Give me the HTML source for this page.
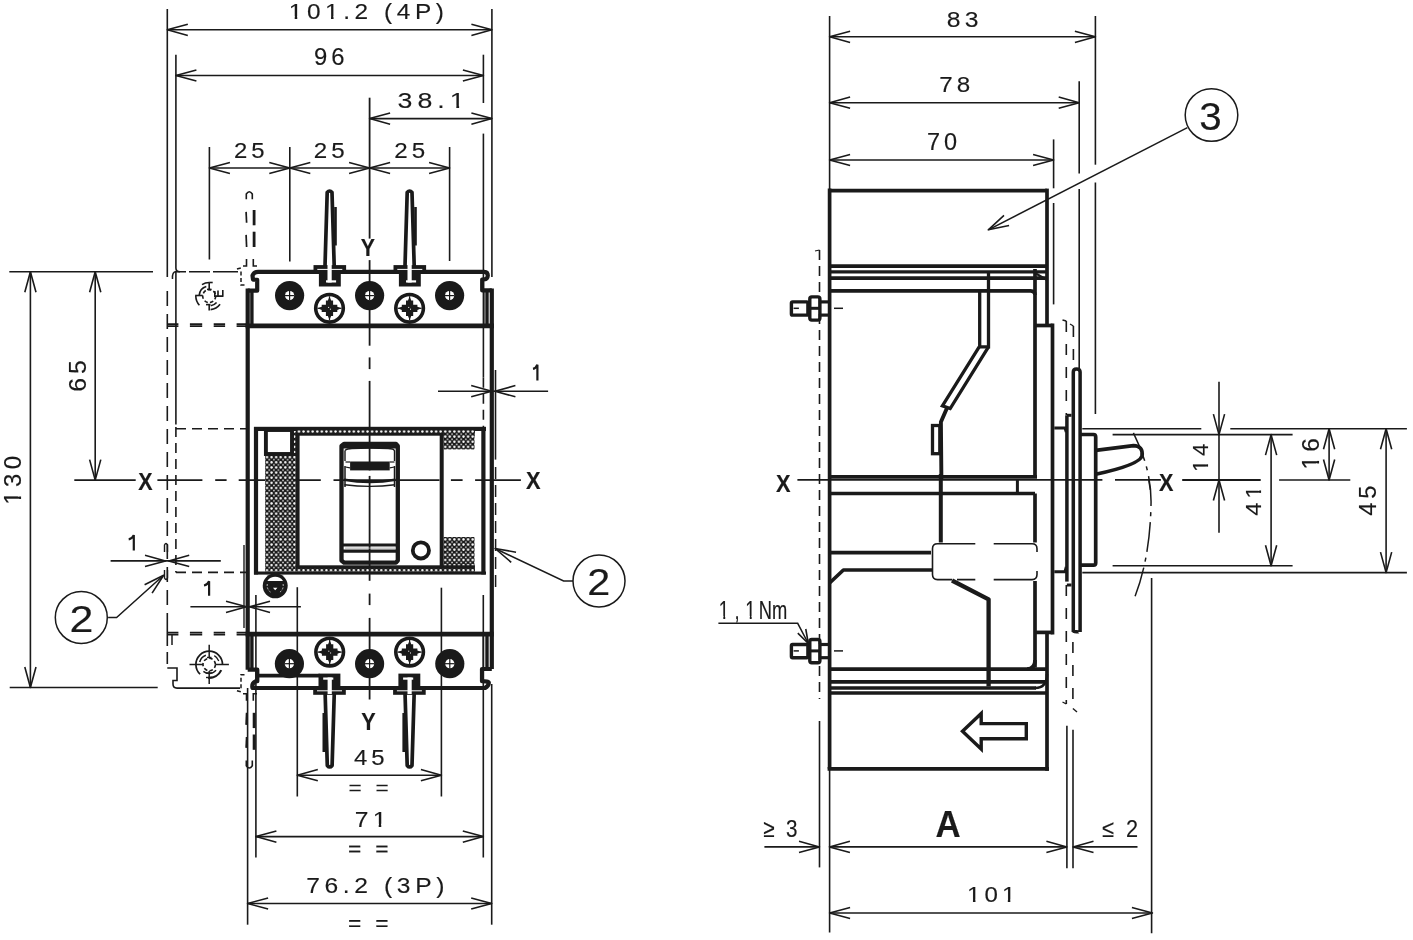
<!DOCTYPE html>
<html><head><meta charset="utf-8"><style>
html,body{margin:0;padding:0;background:#fff;overflow:hidden;}
svg{display:block;will-change:transform;}
text{font-family:"Liberation Sans",sans-serif;fill:#1a1a1a;stroke:#1a1a1a;stroke-width:0.15px;}
</style></head><body>
<svg width="1413" height="940" viewBox="0 0 1413 940">
<defs>
<pattern id="dots" x="4.24" y="3.6" width="4.57" height="5.14" patternUnits="userSpaceOnUse">
<rect width="4.57" height="5.14" fill="#1a1a1a"/><circle cx="2.27" cy="1.3" r="1.2" fill="#fff"/><circle cx="0" cy="3.87" r="0.8" fill="#eee"/><circle cx="4.57" cy="3.87" r="0.8" fill="#eee"/>
</pattern>
</defs>
<rect width="1413" height="940" fill="#fff"/>
<g stroke="#1a1a1a" fill="none" stroke-linecap="butt">
<line x1="167.3" y1="9" x2="167.3" y2="277" stroke-width="1.6" />
<line x1="491.9" y1="9" x2="491.9" y2="277" stroke-width="1.6" />
<line x1="167.3" y1="29.8" x2="491.9" y2="29.8" stroke-width="1.6" />
<path d="M187.8,24.2 L167.3,29.8 L187.8,35.4" stroke-width="1.6" stroke-linejoin="round"/>
<path d="M471.4,24.2 L491.9,29.8 L471.4,35.4" stroke-width="1.6" stroke-linejoin="round"/>
<line x1="175.9" y1="54.7" x2="175.9" y2="268" stroke-width="1.6" />
<path d="M175.9,268 Q175.9,271.8 180,271.8" stroke-width="1.6" />
<line x1="483.4" y1="54.7" x2="483.4" y2="103" stroke-width="1.6" />
<line x1="483.4" y1="133.6" x2="483.4" y2="377.7" stroke-width="1.6" />
<line x1="175.9" y1="75.5" x2="483.4" y2="75.5" stroke-width="1.6" />
<path d="M196.4,69.9 L175.9,75.5 L196.4,81.1" stroke-width="1.6" stroke-linejoin="round"/>
<path d="M462.9,69.9 L483.4,75.5 L462.9,81.1" stroke-width="1.6" stroke-linejoin="round"/>
<line x1="369.6" y1="118.6" x2="491.9" y2="118.6" stroke-width="1.6" />
<path d="M390.1,113 L369.6,118.6 L390.1,124.2" stroke-width="1.6" stroke-linejoin="round"/>
<path d="M471.4,113 L491.9,118.6 L471.4,124.2" stroke-width="1.6" stroke-linejoin="round"/>
<line x1="209.4" y1="147" x2="209.4" y2="259.5" stroke-width="1.6" />
<line x1="289.8" y1="147" x2="289.8" y2="261.5" stroke-width="1.6" />
<line x1="449.6" y1="147" x2="449.6" y2="261" stroke-width="1.6" />
<line x1="209.4" y1="168" x2="289.8" y2="168" stroke-width="1.6" />
<path d="M229.9,162.4 L209.4,168 L229.9,173.6" stroke-width="1.6" stroke-linejoin="round"/>
<path d="M269.3,162.4 L289.8,168 L269.3,173.6" stroke-width="1.6" stroke-linejoin="round"/>
<line x1="289.8" y1="168" x2="369.6" y2="168" stroke-width="1.6" />
<path d="M310.3,162.4 L289.8,168 L310.3,173.6" stroke-width="1.6" stroke-linejoin="round"/>
<path d="M349.1,162.4 L369.6,168 L349.1,173.6" stroke-width="1.6" stroke-linejoin="round"/>
<line x1="369.6" y1="168" x2="449.6" y2="168" stroke-width="1.6" />
<path d="M390.1,162.4 L369.6,168 L390.1,173.6" stroke-width="1.6" stroke-linejoin="round"/>
<path d="M429.1,162.4 L449.6,168 L429.1,173.6" stroke-width="1.6" stroke-linejoin="round"/>
<line x1="369.6" y1="97.7" x2="369.6" y2="238.6" stroke-width="1.8" />
<line x1="369.6" y1="260.1" x2="369.6" y2="345.7" stroke-width="1.8" />
<line x1="369.6" y1="357.4" x2="369.6" y2="369.1" stroke-width="1.8" />
<line x1="369.6" y1="380.9" x2="369.6" y2="470.4" stroke-width="1.8" />
<line x1="369.6" y1="475.9" x2="369.6" y2="580.8" stroke-width="1.8" />
<line x1="369.6" y1="593.6" x2="369.6" y2="605.1" stroke-width="1.8" />
<line x1="369.6" y1="617.9" x2="369.6" y2="699.5" stroke-width="1.8" />
<line x1="9.3" y1="271.8" x2="153" y2="271.8" stroke-width="1.6" />
<line x1="9.7" y1="687.5" x2="157.7" y2="687.5" stroke-width="1.6" />
<line x1="30.4" y1="271.8" x2="30.4" y2="687.5" stroke-width="1.6" />
<path d="M24.8,292.3 L30.4,271.8 L36,292.3" stroke-width="1.6" stroke-linejoin="round"/>
<path d="M24.8,667 L30.4,687.5 L36,667" stroke-width="1.6" stroke-linejoin="round"/>
<line x1="95.2" y1="271.8" x2="95.2" y2="480.1" stroke-width="1.6" />
<path d="M89.6,292.3 L95.2,271.8 L100.8,292.3" stroke-width="1.6" stroke-linejoin="round"/>
<path d="M89.6,459.6 L95.2,480.1 L100.8,459.6" stroke-width="1.6" stroke-linejoin="round"/>
<line x1="74.3" y1="480.1" x2="135.7" y2="480.1" stroke-width="1.8" />
<line x1="157.4" y1="480.1" x2="202.4" y2="480.1" stroke-width="1.8" />
<line x1="215.2" y1="480.1" x2="226.6" y2="480.1" stroke-width="1.8" />
<line x1="238.7" y1="480.1" x2="320.8" y2="480.1" stroke-width="1.8" />
<line x1="333.5" y1="480.1" x2="439.5" y2="480.1" stroke-width="1.8" />
<line x1="450.9" y1="480.1" x2="462.6" y2="480.1" stroke-width="1.8" />
<line x1="475.1" y1="480.1" x2="520.9" y2="480.1" stroke-width="1.8" />
<line x1="167.3" y1="291" x2="167.3" y2="616" stroke-width="1.6" stroke-dasharray="15 8"/>
<line x1="167.3" y1="616" x2="167.3" y2="634" stroke-width="1.6" />
<line x1="167.3" y1="634" x2="167.3" y2="668" stroke-width="1.6" stroke-dasharray="12 6"/>
<path d="M167.3,668 L177,668 L177,680.5 L173,680.5 L173,684 Q173,688.1 177,688.1 L240,688.1" stroke-width="1.6" />
<path d="M172,271.8 L238,271.8" stroke-width="1.6" stroke-dasharray="0 3 11 3 21 3 25 3"/>
<path d="M172.5,279 Q172,271.8 176,271.5" stroke-width="1.5" />
<line x1="175.9" y1="271.8" x2="175.9" y2="424.6" stroke-width="1.6" />
<line x1="175.9" y1="427" x2="175.9" y2="572.4" stroke-width="1.6" stroke-dasharray="10 6"/>
<line x1="176" y1="428.7" x2="246" y2="428.7" stroke-width="1.6" stroke-dasharray="10 6"/>
<line x1="176" y1="572.4" x2="246" y2="572.4" stroke-width="1.6" stroke-dasharray="10 6"/>
<path d="M172,634 L172,645" stroke-width="1.5" />
<line x1="167" y1="324.2" x2="246" y2="324.2" stroke-width="1.8" stroke-dasharray="11.4 11.5 12.3 11.5"/>
<line x1="167" y1="326.2" x2="246" y2="326.2" stroke-width="1.8" stroke-dasharray="11.4 11.5 12.3 11.5"/>
<line x1="167" y1="632.7" x2="246" y2="632.7" stroke-width="1.8" stroke-dasharray="11.4 11.5 12.3 11.5"/>
<line x1="167" y1="634.7" x2="246" y2="634.7" stroke-width="1.8" stroke-dasharray="11.4 11.5 12.3 11.5"/>
<circle cx="209.2" cy="296.1" r="6.5" stroke-width="1.6" fill="none" stroke-dasharray="3.5 2.2"/>
<path d="M201.99,284.57 A13.6,13.6 0 0 1 209.2,282.5" stroke-width="1.6" />
<line x1="209.2" y1="282.5" x2="212.7" y2="282.5" stroke-width="1.6" />
<path d="M199.25,295.05 A10,10 0 0 1 206.28,286.54" stroke-width="1.6" />
<line x1="195.1" y1="295.5" x2="202.6" y2="295.5" stroke-width="1.6" />
<path d="M199.4,305.24 A13.4,13.4 0 0 1 195.8,296.1" stroke-width="1.6" />
<line x1="209.2" y1="282.5" x2="209.2" y2="289.4" stroke-width="1.6" />
<line x1="207" y1="289.4" x2="211.5" y2="289.4" stroke-width="1.6" />
<path d="M214.8,291 L214.8,296.1 L223.5,296.1 M218,290.5 L218,296.1 M222.8,290 L222.8,296.1" stroke-width="1.6" />
<line x1="206" y1="304.6" x2="210.5" y2="304.6" stroke-width="1.6" />
<path d="M216.6,302.53 A9.8,9.8 0 0 1 210.73,305.78" stroke-width="1.6" />
<line x1="209.2" y1="304.6" x2="209.2" y2="310.4" stroke-width="1.6" />
<path d="M220.06,304.28 A13.6,13.6 0 0 1 210.62,309.63" stroke-width="1.6" />
<circle cx="209.2" cy="664.5" r="6.2" stroke-width="1.6" fill="none" stroke-dasharray="3.5 2.2"/>
<path d="M195.9,664.5 A13.3,13.3 0 0 1 222.5,664.5" stroke-width="1.7" />
<path d="M200.13,674.23 A13.3,13.3 0 0 1 195.91,664.96" stroke-width="1.7" />
<path d="M221.25,670.12 A13.3,13.3 0 0 1 208.04,677.75" stroke-width="2.2" />
<path d="M199.73,661.96 A9.8,9.8 0 0 1 205.85,655.29" stroke-width="1.6" />
<path d="M216.09,670.29 A9,9 0 0 1 203.41,671.39" stroke-width="1.4" />
<path d="M214.3,655.67 A10.2,10.2 0 0 1 218.78,661.01" stroke-width="1.3" />
<line x1="189.5" y1="664.5" x2="203" y2="664.5" stroke-width="1.5" />
<line x1="215.5" y1="664.5" x2="228.9" y2="664.5" stroke-width="1.5" />
<line x1="209.2" y1="644.8" x2="209.2" y2="657.5" stroke-width="1.5" />
<line x1="207" y1="657.5" x2="211.5" y2="657.5" stroke-width="1.5" />
<line x1="209.2" y1="671" x2="209.2" y2="683.9" stroke-width="1.5" />
<line x1="206" y1="673" x2="212.5" y2="673" stroke-width="1.4" />
<line x1="206" y1="677.5" x2="212" y2="677.5" stroke-width="1.4" />
<path d="M246.3,199.2 L246.3,194 Q249.3,189.5 252.3,194 L252.3,199.2" stroke-width="1.6" />
<line x1="246.1" y1="211.9" x2="246.6" y2="222.8" stroke-width="1.7" />
<line x1="246.1" y1="234.9" x2="246.6" y2="247" stroke-width="1.7" />
<line x1="254.1" y1="210" x2="254.1" y2="225.3" stroke-width="2.8" />
<line x1="254.1" y1="231.7" x2="254.1" y2="247" stroke-width="2.8" />
<path d="M246.5,259 L246.5,266 L243,266" stroke-width="1.6" />
<path d="M253.3,259 L253.3,266 L257,266" stroke-width="1.6" />
<path d="M240.8,268 L235.5,269.5 M241,271.5 L241,285 L245,285" stroke-width="1.5" stroke-dasharray="4 2.5"/>
<path d="M246.3,760.6 L246.3,765.8 Q249.3,770.3 252.3,765.8 L252.3,760.6" stroke-width="1.6" />
<line x1="246.1" y1="747.9" x2="246.6" y2="737" stroke-width="1.7" />
<line x1="246.1" y1="724.9" x2="246.6" y2="712.8" stroke-width="1.7" />
<line x1="254.1" y1="749.8" x2="254.1" y2="734.5" stroke-width="2.8" />
<line x1="254.1" y1="728.1" x2="254.1" y2="712.8" stroke-width="2.8" />
<path d="M246.5,700.8 L246.5,693.8 L243,693.8" stroke-width="1.6" />
<path d="M253.3,700.8 L253.3,693.8 L257,693.8" stroke-width="1.6" />
<path d="M240.8,691.8 L235.5,690.3 M241,688.3 L241,674.8 L245,674.8" stroke-width="1.5" stroke-dasharray="4 2.5"/>
<path d="M258,271.8 L484.2,271.8 Q487.8,272 487.8,275.5 Q487.6,279.2 484.2,279.4 L482.2,279.6 L482.2,290.4 L491.8,290.4" stroke-width="4.2" stroke-linejoin="round"/>
<path d="M258,271.8 Q254,271.8 252.5,275.5 L253,279.6 L257.2,279.8 L257.2,290.7 L247.7,290.7" stroke-width="4.2" stroke-linejoin="round"/>
<line x1="247.7" y1="288.6" x2="247.7" y2="669.7" stroke-width="4.2" />
<line x1="491.8" y1="288.6" x2="491.8" y2="669" stroke-width="4.2" />
<line x1="251.9" y1="289" x2="251.9" y2="325" stroke-width="3.4" />
<line x1="483.8" y1="291" x2="483.8" y2="325" stroke-width="1.6" />
<line x1="487" y1="289" x2="487" y2="325" stroke-width="3.4" />
<line x1="245.6" y1="325.8" x2="494" y2="325.8" stroke-width="4.8" />
<line x1="245.6" y1="634.2" x2="493.7" y2="634.2" stroke-width="4.8" />
<line x1="251.9" y1="634" x2="251.9" y2="669.7" stroke-width="3.4" />
<line x1="483.4" y1="634" x2="483.4" y2="669" stroke-width="1.6" />
<line x1="487" y1="634" x2="487" y2="669" stroke-width="3.4" />
<path d="M247.7,669.7 L257.3,669.7 L257.3,681.2 L255.5,681.4 Q251.5,683.5 252.5,688 L485,688 Q489,686 488.8,682.5 Q487.5,681.2 482,681.2 L482,669 L491.8,669" stroke-width="4.2" stroke-linejoin="round"/>
<line x1="258.7" y1="675.6" x2="319.7" y2="675.6" stroke-width="3.6" />
<line x1="495.5" y1="370" x2="495.5" y2="459.6" stroke-width="1.6" />
<line x1="495.6" y1="467" x2="495.6" y2="591" stroke-width="1.5" stroke-dasharray="12 6"/>
<line x1="483.4" y1="377.7" x2="483.4" y2="427" stroke-width="1.6" stroke-dasharray="10 6"/>
<circle cx="289.6" cy="295.6" r="14.6" stroke-width="0" fill="#1a1a1a" stroke="none"/>
<circle cx="289.6" cy="295.6" r="4.6" stroke-width="0" fill="#fff" stroke="none"/>
<line x1="284.8" y1="295.6" x2="294.4" y2="295.6" stroke-width="1.2" />
<line x1="289.6" y1="290.8" x2="289.6" y2="300.4" stroke-width="1.2" />
<circle cx="369.6" cy="295.6" r="14.6" stroke-width="0" fill="#1a1a1a" stroke="none"/>
<circle cx="369.6" cy="295.6" r="4.6" stroke-width="0" fill="#fff" stroke="none"/>
<line x1="364.8" y1="295.6" x2="374.4" y2="295.6" stroke-width="1.2" />
<line x1="369.6" y1="290.8" x2="369.6" y2="300.4" stroke-width="1.2" />
<circle cx="449.6" cy="295.6" r="14.6" stroke-width="0" fill="#1a1a1a" stroke="none"/>
<circle cx="449.6" cy="295.6" r="4.6" stroke-width="0" fill="#fff" stroke="none"/>
<line x1="444.8" y1="295.6" x2="454.4" y2="295.6" stroke-width="1.2" />
<line x1="449.6" y1="290.8" x2="449.6" y2="300.4" stroke-width="1.2" />
<circle cx="329.5" cy="308.3" r="13.8" stroke-width="3.6" fill="none" />
<path d="M317.7,308.3 L321.7,306.7 L321.7,304.7 L325.9,304.7 L325.9,300.5 L327.9,300.5 L329.5,296.5 L331.1,300.5 L333.1,300.5 L333.1,304.7 L337.3,304.7 L337.3,306.7 L341.3,308.3 L337.3,309.9 L337.3,311.9 L333.1,311.9 L333.1,316.1 L331.1,316.1 L329.5,320.1 L327.9,316.1 L325.9,316.1 L325.9,311.9 L321.7,311.9 L321.7,309.9 Z" fill="#1a1a1a" stroke="none"/>
<line x1="317.5" y1="308.3" x2="341.5" y2="308.3" stroke-width="1.2" />
<line x1="329.5" y1="296.3" x2="329.5" y2="320.3" stroke-width="1.2" />
<rect x="328.1" y="306.9" width="1" height="1" fill="#fff" stroke="none"/>
<rect x="329.9" y="308.7" width="1" height="1" fill="#fff" stroke="none"/>
<circle cx="409.6" cy="308.3" r="13.8" stroke-width="3.6" fill="none" />
<path d="M397.8,308.3 L401.8,306.7 L401.8,304.7 L406,304.7 L406,300.5 L408,300.5 L409.6,296.5 L411.2,300.5 L413.2,300.5 L413.2,304.7 L417.4,304.7 L417.4,306.7 L421.4,308.3 L417.4,309.9 L417.4,311.9 L413.2,311.9 L413.2,316.1 L411.2,316.1 L409.6,320.1 L408,316.1 L406,316.1 L406,311.9 L401.8,311.9 L401.8,309.9 Z" fill="#1a1a1a" stroke="none"/>
<line x1="397.6" y1="308.3" x2="421.6" y2="308.3" stroke-width="1.2" />
<line x1="409.6" y1="296.3" x2="409.6" y2="320.3" stroke-width="1.2" />
<rect x="408.2" y="306.9" width="1" height="1" fill="#fff" stroke="none"/>
<rect x="410" y="308.7" width="1" height="1" fill="#fff" stroke="none"/>
<path d="M325,266 L327.2,192.5 Q329.6,189.5 332,192.5 L334.2,266" stroke-width="3.7" stroke-linejoin="round"/>
<rect x="334.2" y="207" width="2.6" height="38.5" fill="#1a1a1a" stroke="none"/>
<rect x="313.5" y="265.1" width="32.6" height="8.5" fill="#1a1a1a" stroke="none"/>
<rect x="317.3" y="268.9" width="25" height="1" fill="#fff" stroke="none"/>
<rect x="318.9" y="271" width="21.9" height="15.5" fill="#1a1a1a" stroke="none"/>
<rect x="327.5" y="264" width="4.2" height="18.5" fill="#fff" stroke="none"/>
<rect x="326" y="280.3" width="10.1" height="2.2" fill="#fff" stroke="none"/>
<path d="M405,266 L407.2,192.5 Q409.6,189.5 412,192.5 L414.2,266" stroke-width="3.7" stroke-linejoin="round"/>
<rect x="414.2" y="207" width="2.6" height="38.5" fill="#1a1a1a" stroke="none"/>
<rect x="393.5" y="265.1" width="32.6" height="8.5" fill="#1a1a1a" stroke="none"/>
<rect x="397.3" y="268.9" width="25" height="1" fill="#fff" stroke="none"/>
<rect x="398.9" y="271" width="21.9" height="15.5" fill="#1a1a1a" stroke="none"/>
<rect x="407.5" y="264" width="4.2" height="18.5" fill="#fff" stroke="none"/>
<rect x="406" y="280.3" width="10.1" height="2.2" fill="#fff" stroke="none"/>
<circle cx="289.4" cy="663.7" r="14.6" stroke-width="0" fill="#1a1a1a" stroke="none"/>
<circle cx="289.4" cy="663.7" r="4.6" stroke-width="0" fill="#fff" stroke="none"/>
<line x1="284.6" y1="663.7" x2="294.2" y2="663.7" stroke-width="1.2" />
<line x1="289.4" y1="658.9" x2="289.4" y2="668.5" stroke-width="1.2" />
<circle cx="369.6" cy="663.7" r="14.6" stroke-width="0" fill="#1a1a1a" stroke="none"/>
<circle cx="369.6" cy="663.7" r="4.6" stroke-width="0" fill="#fff" stroke="none"/>
<line x1="364.8" y1="663.7" x2="374.4" y2="663.7" stroke-width="1.2" />
<line x1="369.6" y1="658.9" x2="369.6" y2="668.5" stroke-width="1.2" />
<circle cx="449.8" cy="663.7" r="14.6" stroke-width="0" fill="#1a1a1a" stroke="none"/>
<circle cx="449.8" cy="663.7" r="4.6" stroke-width="0" fill="#fff" stroke="none"/>
<line x1="445" y1="663.7" x2="454.6" y2="663.7" stroke-width="1.2" />
<line x1="449.8" y1="658.9" x2="449.8" y2="668.5" stroke-width="1.2" />
<circle cx="329.7" cy="652.1" r="13.8" stroke-width="3.6" fill="none" />
<path d="M317.9,652.1 L321.9,650.5 L321.9,648.5 L326.1,648.5 L326.1,644.3 L328.1,644.3 L329.7,640.3 L331.3,644.3 L333.3,644.3 L333.3,648.5 L337.5,648.5 L337.5,650.5 L341.5,652.1 L337.5,653.7 L337.5,655.7 L333.3,655.7 L333.3,659.9 L331.3,659.9 L329.7,663.9 L328.1,659.9 L326.1,659.9 L326.1,655.7 L321.9,655.7 L321.9,653.7 Z" fill="#1a1a1a" stroke="none"/>
<line x1="317.7" y1="652.1" x2="341.7" y2="652.1" stroke-width="1.2" />
<line x1="329.7" y1="640.1" x2="329.7" y2="664.1" stroke-width="1.2" />
<rect x="328.3" y="650.7" width="1" height="1" fill="#fff" stroke="none"/>
<rect x="330.1" y="652.5" width="1" height="1" fill="#fff" stroke="none"/>
<circle cx="409.6" cy="652.1" r="13.8" stroke-width="3.6" fill="none" />
<path d="M397.8,652.1 L401.8,650.5 L401.8,648.5 L406,648.5 L406,644.3 L408,644.3 L409.6,640.3 L411.2,644.3 L413.2,644.3 L413.2,648.5 L417.4,648.5 L417.4,650.5 L421.4,652.1 L417.4,653.7 L417.4,655.7 L413.2,655.7 L413.2,659.9 L411.2,659.9 L409.6,663.9 L408,659.9 L406,659.9 L406,655.7 L401.8,655.7 L401.8,653.7 Z" fill="#1a1a1a" stroke="none"/>
<line x1="397.6" y1="652.1" x2="421.6" y2="652.1" stroke-width="1.2" />
<line x1="409.6" y1="640.1" x2="409.6" y2="664.1" stroke-width="1.2" />
<rect x="408.2" y="650.7" width="1" height="1" fill="#fff" stroke="none"/>
<rect x="410" y="652.5" width="1" height="1" fill="#fff" stroke="none"/>
<path d="M325.1,692 L327.3,765.5 Q329.7,768.5 332.1,765.5 L334.3,692" stroke-width="3.7" stroke-linejoin="round"/>
<rect x="322.5" y="713" width="2.6" height="39" fill="#1a1a1a" stroke="none"/>
<rect x="313.2" y="686" width="32.6" height="8.8" fill="#1a1a1a" stroke="none"/>
<rect x="317" y="690.3" width="25" height="1" fill="#fff" stroke="none"/>
<rect x="318.5" y="673.6" width="21.9" height="15.4" fill="#1a1a1a" stroke="none"/>
<rect x="327.6" y="677.5" width="4.2" height="16.5" fill="#fff" stroke="none"/>
<rect x="323.2" y="677.5" width="10.1" height="2.2" fill="#fff" stroke="none"/>
<path d="M405,692 L407.2,765.5 Q409.6,768.5 412,765.5 L414.2,692" stroke-width="3.7" stroke-linejoin="round"/>
<rect x="402.4" y="713" width="2.6" height="39" fill="#1a1a1a" stroke="none"/>
<rect x="393.1" y="686" width="32.6" height="8.8" fill="#1a1a1a" stroke="none"/>
<rect x="396.9" y="690.3" width="25" height="1" fill="#fff" stroke="none"/>
<rect x="398.4" y="673.6" width="21.9" height="15.4" fill="#1a1a1a" stroke="none"/>
<rect x="407.5" y="677.5" width="4.2" height="16.5" fill="#fff" stroke="none"/>
<rect x="403.1" y="677.5" width="10.1" height="2.2" fill="#fff" stroke="none"/>
<rect x="254" y="426.8" width="232" height="4.2" fill="#1a1a1a" stroke="none"/>
<rect x="295.5" y="431" width="179.4" height="4.7" fill="#1a1a1a" stroke="none"/>
<rect x="297" y="430.2" width="177.5" height="2.8" fill="url(#dots)" stroke="none"/>
<rect x="443.6" y="431" width="30.9" height="18.4" fill="url(#dots)" stroke="none"/>
<rect x="265.1" y="455.7" width="30.6" height="115.8" fill="url(#dots)" stroke="none"/>
<rect x="293" y="431" width="3" height="25" fill="url(#dots)" stroke="none"/>
<rect x="443.6" y="537" width="30.9" height="34.5" fill="url(#dots)" stroke="none"/>
<rect x="254" y="571.5" width="232" height="3.1" fill="#1a1a1a" stroke="none"/>
<rect x="295.5" y="565.3" width="179.4" height="6.2" fill="#1a1a1a" stroke="none"/>
<rect x="297" y="568.8" width="177.5" height="2.6" fill="url(#dots)" stroke="none"/>
<line x1="256" y1="427" x2="256" y2="574.5" stroke-width="4.2" />
<line x1="483.4" y1="427" x2="483.4" y2="574.5" stroke-width="4.2" />
<rect x="265.9" y="430" width="26.1" height="24" stroke-width="3.9" />
<rect x="264" y="453" width="31.7" height="2.7" fill="#1a1a1a" stroke="none"/>
<line x1="297.6" y1="433" x2="297.6" y2="567" stroke-width="4.0" />
<line x1="441.7" y1="433" x2="441.7" y2="567" stroke-width="4.0" />
<path d="M341.5,560.5 L341.5,446 L344,443.9 L396,443.9 L397.8,446 L397.8,560.5 L396,562.6 L344,562.6 Z" stroke-width="4.3" stroke-linejoin="round"/>
<line x1="342" y1="446.3" x2="397" y2="446.3" stroke-width="4.6" />
<path d="M345,450.5 Q347,448.5 352,448.5 Q370,447.8 388,448.5 Q394,448.5 394.5,451 L394.5,461" stroke-width="1.4" />
<path d="M345,450.5 L345,461" stroke-width="1.4" />
<rect x="350.1" y="461.5" width="39.6" height="8.9" fill="#1a1a1a" stroke="none"/>
<line x1="345.5" y1="462" x2="350" y2="462" stroke-width="1.2" />
<line x1="389.7" y1="462" x2="394.5" y2="462" stroke-width="1.2" />
<line x1="345.5" y1="467" x2="350" y2="467.8" stroke-width="1.2" />
<line x1="389.7" y1="467.8" x2="394.5" y2="467" stroke-width="1.2" />
<line x1="345" y1="466" x2="345" y2="487" stroke-width="1.5" />
<line x1="394.5" y1="466" x2="394.5" y2="487" stroke-width="1.5" />
<path d="M344,479.7 Q370,484 395.5,479.7" stroke-width="2.6" />
<path d="M344.5,484.8 Q370,488 395,484.8" stroke-width="1.4" />
<line x1="342" y1="544.9" x2="397" y2="544.9" stroke-width="3.0" />
<line x1="345" y1="548.1" x2="395" y2="548.1" stroke-width="0.8" stroke="#999"/>
<line x1="342" y1="551.1" x2="397" y2="551.1" stroke-width="3.4" />
<circle cx="420.9" cy="550.4" r="8.1" stroke-width="3.8" fill="none" />
<circle cx="275.2" cy="585.8" r="12.5" stroke-width="0" fill="#1a1a1a" stroke="none"/>
<path d="M267.4,580.9 A9.3,9.3 0 0 1 283,580.9 Z" fill="#fff" stroke="none"/>
<path d="M267.3,584 A8.2,8.2 0 0 0 271,592.5 M283.1,584 A8.2,8.2 0 0 1 279.4,592.5" stroke="#fff" stroke-width="0.7" stroke-dasharray="2 1.5"/>
<path d="M273,587.8 L277.4,587.8 L275.2,590.3 Z" fill="#fff" stroke="none"/>
<line x1="438" y1="391.2" x2="548.1" y2="391.2" stroke-width="1.6" />
<path d="M471.2,385.6 L491.7,391.2 L471.2,396.8" stroke-width="1.6" stroke-linejoin="round"/>
<path d="M515.4,385.6 L494.9,391.2 L515.4,396.8" stroke-width="1.6" stroke-linejoin="round"/>
<circle cx="81.3" cy="617.5" r="26" stroke-width="1.5" fill="none" />
<path d="M108.1,617.5 L116.6,617.5 L163.6,575.3" stroke-width="1.5" />
<path d="M144.61,584.83 L163.6,575.3 L152.09,593.16" stroke-width="1.6" stroke-linejoin="round"/>
<circle cx="599" cy="581" r="26" stroke-width="1.5" fill="none" />
<path d="M573,581 L563.6,581 L495.1,548.5" stroke-width="1.5" />
<path d="M511.22,562.35 L495.1,548.5 L516.02,552.23" stroke-width="1.6" stroke-linejoin="round"/>
<line x1="110.6" y1="560.9" x2="220.8" y2="560.9" stroke-width="1.6" />
<path d="M145,555.3 L165.5,560.9 L145,566.5" stroke-width="1.6" stroke-linejoin="round"/>
<path d="M189.2,555.3 L168.7,560.9 L189.2,566.5" stroke-width="1.6" stroke-linejoin="round"/>
<path d="M164.5,552 L164.5,545 Q166,542 167.5,545 L167.5,552" stroke-width="1.4" />
<path d="M164.5,570 L164.5,578 Q166,581 167.5,578 L167.5,570" stroke-width="1.4" />
<line x1="190.4" y1="606.8" x2="300.9" y2="606.8" stroke-width="1.6" />
<path d="M226,601.2 L246.5,606.8 L226,612.4" stroke-width="1.6" stroke-linejoin="round"/>
<path d="M270,601.2 L249.5,606.8 L270,612.4" stroke-width="1.6" stroke-linejoin="round"/>
<line x1="244" y1="545" x2="244" y2="628" stroke-width="1.4" />
<line x1="297.3" y1="587.2" x2="297.3" y2="796.5" stroke-width="1.6" />
<line x1="441.4" y1="587.7" x2="441.4" y2="796.5" stroke-width="1.6" />
<line x1="297.3" y1="775.2" x2="441.4" y2="775.2" stroke-width="1.6" />
<path d="M317.8,769.6 L297.3,775.2 L317.8,780.8" stroke-width="1.6" stroke-linejoin="round"/>
<path d="M420.9,769.6 L441.4,775.2 L420.9,780.8" stroke-width="1.6" stroke-linejoin="round"/>
<line x1="255.9" y1="594.9" x2="255.9" y2="857.4" stroke-width="1.6" />
<line x1="483.3" y1="594.9" x2="483.3" y2="857.4" stroke-width="1.6" />
<line x1="255.9" y1="836.6" x2="483.3" y2="836.6" stroke-width="1.6" />
<path d="M276.4,831 L255.9,836.6 L276.4,842.2" stroke-width="1.6" stroke-linejoin="round"/>
<path d="M462.8,831 L483.3,836.6 L462.8,842.2" stroke-width="1.6" stroke-linejoin="round"/>
<line x1="247.6" y1="688" x2="247.6" y2="924.7" stroke-width="1.6" />
<line x1="491.7" y1="684" x2="491.7" y2="924.7" stroke-width="1.6" />
<line x1="247.6" y1="903.5" x2="491.7" y2="903.5" stroke-width="1.6" />
<path d="M268.1,897.9 L247.6,903.5 L268.1,909.1" stroke-width="1.6" stroke-linejoin="round"/>
<path d="M471.2,897.9 L491.7,903.5 L471.2,909.1" stroke-width="1.6" stroke-linejoin="round"/>
<line x1="829.6" y1="16" x2="829.6" y2="190" stroke-width="1.6" />
<line x1="1095.4" y1="16" x2="1095.4" y2="164.7" stroke-width="1.6" />
<line x1="1095.4" y1="182.5" x2="1095.4" y2="414" stroke-width="1.6" />
<line x1="829.6" y1="36.8" x2="1095.4" y2="36.8" stroke-width="1.6" />
<path d="M850.1,31.2 L829.6,36.8 L850.1,42.4" stroke-width="1.6" stroke-linejoin="round"/>
<path d="M1074.9,31.2 L1095.4,36.8 L1074.9,42.4" stroke-width="1.6" stroke-linejoin="round"/>
<line x1="1079.2" y1="81.3" x2="1079.2" y2="173.6" stroke-width="1.6" />
<line x1="1079.2" y1="188.9" x2="1079.2" y2="368" stroke-width="1.6" />
<line x1="829.6" y1="102.7" x2="1079.2" y2="102.7" stroke-width="1.6" />
<path d="M850.1,97.1 L829.6,102.7 L850.1,108.3" stroke-width="1.6" stroke-linejoin="round"/>
<path d="M1058.7,97.1 L1079.2,102.7 L1058.7,108.3" stroke-width="1.6" stroke-linejoin="round"/>
<line x1="1053.6" y1="139.4" x2="1053.6" y2="188.3" stroke-width="1.6" />
<line x1="1053.6" y1="203" x2="1053.6" y2="304.4" stroke-width="1.6" />
<line x1="829.6" y1="160" x2="1053.6" y2="160" stroke-width="1.6" />
<path d="M850.1,154.4 L829.6,160 L850.1,165.6" stroke-width="1.6" stroke-linejoin="round"/>
<path d="M1033.1,154.4 L1053.6,160 L1033.1,165.6" stroke-width="1.6" stroke-linejoin="round"/>
<circle cx="1211.5" cy="115" r="26.3" stroke-width="1.5" fill="none" />
<line x1="1187.4" y1="127.7" x2="988.3" y2="229.8" stroke-width="1.5" />
<path d="M1009.1,225.43 L988.3,229.8 L1003.99,215.46" stroke-width="1.6" stroke-linejoin="round"/>
<line x1="829.6" y1="190.7" x2="1047" y2="190.7" stroke-width="3.7" />
<line x1="829.6" y1="188.6" x2="829.6" y2="768.8" stroke-width="3.7" />
<line x1="1047" y1="188.6" x2="1047" y2="325" stroke-width="3.7" />
<line x1="829.6" y1="266.2" x2="1047" y2="266.2" stroke-width="3.7" />
<line x1="829.6" y1="271.9" x2="1047" y2="271.9" stroke-width="3.4" />
<line x1="829.6" y1="278.1" x2="1047" y2="278.1" stroke-width="3.7" />
<path d="M829.6,290.8 L1030.5,290.8 Q1035,291 1035,295" stroke-width="3.7" />
<path d="M979.7,290.8 L979.7,346.8 L988.5,346.8 L988.5,271" stroke-width="3.3" stroke-linejoin="miter"/>
<path d="M979.2,346.8 L942.4,405.8 L950.2,408.6 L988.5,346.8" stroke-width="3.3" stroke-linejoin="miter"/>
<path d="M947,408 L940.9,422 L941.4,480" stroke-width="3.9" stroke-linejoin="round"/>
<rect x="932.5" y="425.5" width="7.3" height="28.2" stroke-width="3.3" />
<line x1="1035" y1="269" x2="1035" y2="476.6" stroke-width="3.7" />
<line x1="1035" y1="273" x2="1047" y2="280" stroke-width="2.2" />
<line x1="1046.8" y1="290" x2="1046.8" y2="322.3" stroke-width="1.6" />
<line x1="1035" y1="325.5" x2="1052.5" y2="325.5" stroke-width="3.7" />
<line x1="1052.5" y1="323.4" x2="1052.5" y2="634.5" stroke-width="3.7" />
<line x1="1035" y1="632.4" x2="1052.5" y2="632.4" stroke-width="3.7" />
<line x1="829.6" y1="476.8" x2="1037" y2="476.8" stroke-width="3.7" />
<line x1="829.6" y1="493.5" x2="1035" y2="493.5" stroke-width="3.7" />
<line x1="1017.4" y1="480" x2="1017.4" y2="493.5" stroke-width="3.0" />
<line x1="940.8" y1="474" x2="940.8" y2="544.6" stroke-width="4.0" />
<line x1="1035" y1="493.5" x2="1035" y2="667.5" stroke-width="3.7" />
<line x1="829.6" y1="552.6" x2="932" y2="552.6" stroke-width="3.7" />
<rect x="931" y="542.5" width="108" height="38.5" fill="#fff" stroke="none"/>
<path d="M937.5,543.8 Q932.5,543.8 932.5,548.8 L932.5,574.6 Q932.5,579.6 937.5,579.6 L952,579.6 M957,579.6 L975.3,579.6 M993.7,579.6 L1032,579.6 Q1037,579.6 1037,574.6 L1037,571 M1037,552 L1037,548.8 Q1037,543.8 1032,543.8 L993.7,543.8 M975.3,543.8 L937.5,543.8" stroke-width="1.6" />
<path d="M932,570 L843.4,570 L829.6,583" stroke-width="3.7" stroke-linejoin="round"/>
<path d="M952,580.5 L988.6,599.3 L988.6,686.6" stroke-width="4.3" stroke-linejoin="round"/>
<line x1="829.6" y1="669.2" x2="1047" y2="669.2" stroke-width="3.7" />
<line x1="829.6" y1="681.9" x2="1047" y2="681.9" stroke-width="3.7" />
<line x1="829.6" y1="687.9" x2="1036" y2="687.9" stroke-width="3.5" />
<line x1="829.6" y1="693" x2="1047" y2="693" stroke-width="3.6" />
<path d="M1035,660 Q1035,669 1027,669" stroke-width="3.7" />
<path d="M1047,674 Q1047,688 1035,688" stroke-width="2.6" />
<line x1="1047" y1="632.4" x2="1047" y2="770.8" stroke-width="3.7" />
<line x1="827.6" y1="768.8" x2="1049" y2="768.8" stroke-width="3.7" />
<path d="M962.5,731.2 L981.2,713.5 L981.2,723.6 L1026.3,723.6 L1026.3,738.8 L981.2,738.8 L981.2,749 Z" stroke-width="3.4" stroke-linejoin="miter"/>
<rect x="791.4" y="301.9" width="16.5" height="13.2" rx="1.2" stroke-width="3.4"/>
<rect x="809.8" y="296.9" width="10.1" height="23.2" rx="2" stroke-width="3.4"/>
<line x1="809.8" y1="308.3" x2="819.9" y2="308.3" stroke-width="3.0" />
<line x1="819.9" y1="301.9" x2="829" y2="301.9" stroke-width="3.2" />
<line x1="819.9" y1="315.1" x2="829" y2="315.1" stroke-width="3.2" />
<line x1="793.6" y1="308.3" x2="798.9" y2="308.3" stroke-width="1.5" />
<line x1="834" y1="308.3" x2="843" y2="308.3" stroke-width="1.5" />
<rect x="791.4" y="644.5" width="16.5" height="13.2" rx="1.2" stroke-width="3.4"/>
<rect x="809.8" y="639.5" width="10.1" height="23.2" rx="2" stroke-width="3.4"/>
<line x1="809.8" y1="650.9" x2="819.9" y2="650.9" stroke-width="3.0" />
<line x1="819.9" y1="644.5" x2="829" y2="644.5" stroke-width="3.2" />
<line x1="819.9" y1="657.7" x2="829" y2="657.7" stroke-width="3.2" />
<line x1="793.6" y1="650.9" x2="798.9" y2="650.9" stroke-width="1.5" />
<line x1="834" y1="650.9" x2="843" y2="650.9" stroke-width="1.5" />
<line x1="819.5" y1="250" x2="819.5" y2="699" stroke-width="1.6" stroke-dasharray="10 6"/>
<path d="M815,251 L819.5,250" stroke-width="1.2" />
<line x1="819.5" y1="721" x2="819.5" y2="867.4" stroke-width="1.6" />
<line x1="1066.3" y1="321" x2="1066.3" y2="415" stroke-width="1.6" stroke-dasharray="11 12"/>
<line x1="1066.9" y1="415.3" x2="1066.9" y2="581.6" stroke-width="3.5" />
<line x1="1066.9" y1="415.3" x2="1071.5" y2="415.3" stroke-width="3" />
<line x1="1066.9" y1="585" x2="1071.5" y2="585" stroke-width="3" />
<line x1="1066.3" y1="583" x2="1066.3" y2="704" stroke-width="1.6" stroke-dasharray="11 12" stroke-dashoffset="-2"/>
<line x1="1066.3" y1="704" x2="1062.5" y2="702" stroke-width="1.4" />
<line x1="1073.4" y1="326" x2="1073.4" y2="360" stroke-width="1.6" stroke-dasharray="11 12"/>
<line x1="1073.4" y1="326" x2="1070" y2="324" stroke-width="1.3" />
<line x1="1066.3" y1="321" x2="1062.5" y2="320" stroke-width="1.3" />
<line x1="1072.9" y1="632" x2="1072.9" y2="708.5" stroke-width="1.6" stroke-dasharray="11 12" stroke-dashoffset="-10"/>
<line x1="1072.9" y1="708.5" x2="1077" y2="712" stroke-width="1.4" />
<line x1="1066.9" y1="725.7" x2="1066.9" y2="868.2" stroke-width="1.6" />
<line x1="1073" y1="729.8" x2="1073" y2="868.2" stroke-width="1.6" />
<path d="M1073.3,632 L1073.3,372 Q1073.3,369 1076.5,369 Q1080.1,369 1080.1,372 L1080.1,632 Q1080.1,631.8 1076.5,631.8 Q1073.3,631.8 1073.3,630" stroke-width="3.5" />
<path d="M1080.1,434.5 L1093.5,434.5 Q1095.7,434.5 1095.7,437 L1095.7,563 Q1095.7,565.2 1093.5,565.2 L1080.1,565.2" stroke-width="3.7" />
<path d="M1054.3,428 L1065,428 L1066.3,432" stroke-width="3.0" />
<path d="M1054.3,571.7 L1065,571.7 L1066.3,567" stroke-width="3.0" />
<path d="M1095.7,450.3 L1133.4,445.6 Q1143.5,446 1142,456 Q1139,465 1095.7,474.3" stroke-width="3.7" />
<line x1="1082.3" y1="428.8" x2="1201.3" y2="428.8" stroke-width="1.6" />
<line x1="1230.3" y1="428.8" x2="1406.9" y2="428.8" stroke-width="1.6" />
<line x1="1112.6" y1="434.6" x2="1292.6" y2="434.6" stroke-width="1.6" />
<line x1="1112.6" y1="565.7" x2="1292.6" y2="565.7" stroke-width="1.6" />
<line x1="1082.3" y1="572.6" x2="1406.9" y2="572.6" stroke-width="1.6" />
<line x1="797.4" y1="479.8" x2="1102.4" y2="479.8" stroke-width="1.8" />
<line x1="1115" y1="479.8" x2="1160.9" y2="479.8" stroke-width="1.8" />
<line x1="1148.7" y1="479.8" x2="1150.3" y2="490" stroke-width="1.4" />
<line x1="1182.2" y1="480" x2="1260.7" y2="480" stroke-width="1.8" />
<line x1="1279.1" y1="480" x2="1350.3" y2="480" stroke-width="1.6" />
<line x1="1219" y1="381.7" x2="1219" y2="532.7" stroke-width="1.6" />
<path d="M1213.4,414.1 L1219,434.6 L1224.6,414.1" stroke-width="1.6" stroke-linejoin="round"/>
<path d="M1213.4,500.5 L1219,480 L1224.6,500.5" stroke-width="1.6" stroke-linejoin="round"/>
<line x1="1271.1" y1="434.6" x2="1271.1" y2="565.7" stroke-width="1.6" />
<path d="M1265.5,455.1 L1271.1,434.6 L1276.7,455.1" stroke-width="1.6" stroke-linejoin="round"/>
<path d="M1265.5,545.2 L1271.1,565.7 L1276.7,545.2" stroke-width="1.6" stroke-linejoin="round"/>
<line x1="1329.1" y1="428.8" x2="1329.1" y2="480" stroke-width="1.6" />
<path d="M1323.5,449.3 L1329.1,428.8 L1334.7,449.3" stroke-width="1.6" stroke-linejoin="round"/>
<path d="M1323.5,459.5 L1329.1,480 L1334.7,459.5" stroke-width="1.6" stroke-linejoin="round"/>
<line x1="1386.1" y1="428.8" x2="1386.1" y2="572.6" stroke-width="1.6" />
<path d="M1380.5,449.3 L1386.1,428.8 L1391.7,449.3" stroke-width="1.6" stroke-linejoin="round"/>
<path d="M1380.5,552.1 L1386.1,572.6 L1391.7,552.1" stroke-width="1.6" stroke-linejoin="round"/>
<path d="M1133.4,432.8 Q1152,470 1151,505 Q1150,560 1133.4,600.5" stroke-width="1.5" stroke-dasharray="30 6 4 6"/>
<line x1="1151.6" y1="578" x2="1151.6" y2="933.2" stroke-width="1.6" />
<path d="M718.4,623.3 L797.7,623.3 L808.3,643.5" stroke-width="1.5" />
<path d="M805.78,629.01 L808.3,643.5 L797.81,633.19" stroke-width="1.6" stroke-linejoin="round"/>
<line x1="764.4" y1="846.9" x2="819.5" y2="846.9" stroke-width="1.6" />
<path d="M799,841.3 L819.5,846.9 L799,852.5" stroke-width="1.6" stroke-linejoin="round"/>
<line x1="829.4" y1="846.9" x2="1066.9" y2="846.9" stroke-width="1.6" />
<path d="M849.9,841.3 L829.4,846.9 L849.9,852.5" stroke-width="1.6" stroke-linejoin="round"/>
<path d="M1046.4,841.3 L1066.9,846.9 L1046.4,852.5" stroke-width="1.6" stroke-linejoin="round"/>
<line x1="1073" y1="846.9" x2="1137.5" y2="846.9" stroke-width="1.6" />
<path d="M1093.5,841.3 L1073,846.9 L1093.5,852.5" stroke-width="1.6" stroke-linejoin="round"/>
<line x1="829.6" y1="768" x2="829.6" y2="932.5" stroke-width="1.6" />
<line x1="829.6" y1="913" x2="1152.4" y2="913" stroke-width="1.6" />
<path d="M850.1,907.4 L829.6,913 L850.1,918.6" stroke-width="1.6" stroke-linejoin="round"/>
<path d="M1131.9,907.4 L1152.4,913 L1131.9,918.6" stroke-width="1.6" stroke-linejoin="round"/>
<g transform="matrix(1.0174,0,0,0.9273,288.77,18.96)"><g><text x="0" y="0" font-size="24" letter-spacing="4.5" font-weight="normal">101.2 (4P)</text><rect x="0.48" y="-2.88" width="5.35" height="4.08" fill="#fff" stroke="none"/><rect x="8.33" y="-2.88" width="5.23" height="4.08" fill="#fff" stroke="none"/><rect x="36.17" y="-2.88" width="5.35" height="4.08" fill="#fff" stroke="none"/><rect x="44.02" y="-2.88" width="5.23" height="4.08" fill="#fff" stroke="none"/></g></g>
<g transform="matrix(0.9931,0,0,0.9882,314.11,65.30)"><g><text x="0" y="0" font-size="24" letter-spacing="4" font-weight="normal">96</text></g></g>
<g transform="matrix(1.1148,0,0,0.9059,397.59,108.40)"><g><text x="0" y="0" font-size="24" letter-spacing="4.5" font-weight="normal">38.1</text><rect x="47.34" y="-2.88" width="5.35" height="4.08" fill="#fff" stroke="none"/><rect x="55.19" y="-2.88" width="5.23" height="4.08" fill="#fff" stroke="none"/></g></g>
<g transform="matrix(0.9966,0,0,0.9118,234.00,157.50)"><g><text x="0" y="0" font-size="24" letter-spacing="4" font-weight="normal">25</text></g></g>
<g transform="matrix(1.0069,0,0,0.9118,313.69,157.50)"><g><text x="0" y="0" font-size="24" letter-spacing="4" font-weight="normal">25</text></g></g>
<g transform="matrix(1.0069,0,0,0.9118,394.19,157.50)"><g><text x="0" y="0" font-size="24" letter-spacing="4" font-weight="normal">25</text></g></g>
<g transform="matrix(0.9692,0,0,1.0600,360.73,255.60)"><g><text x="0" y="0" font-size="22" letter-spacing="0" font-weight="bold">Y</text></g></g>
<g transform="matrix(0.9846,0,0,1.0867,361.32,730.10)"><g><text x="0" y="0" font-size="22" letter-spacing="0" font-weight="bold">Y</text></g></g>
<g transform="matrix(0.9706,0,0,0.9978,20.70,504.80)"><g transform="rotate(-90)"><text x="0" y="0" font-size="24" letter-spacing="4.5" font-weight="normal">130</text><rect x="0.48" y="-2.88" width="5.35" height="4.08" fill="#fff" stroke="none"/><rect x="8.33" y="-2.88" width="5.23" height="4.08" fill="#fff" stroke="none"/></g></g>
<g transform="matrix(0.9882,0,0,1.0286,85.80,391.83)"><g transform="rotate(-90)"><text x="0" y="0" font-size="24" letter-spacing="4" font-weight="normal">65</text></g></g>
<g transform="matrix(0.9769,0,0,1.0733,138.32,489.60)"><g><text x="0" y="0" font-size="22" letter-spacing="0" font-weight="bold">X</text></g></g>
<g transform="matrix(0.9923,0,0,1.1000,526.11,488.80)"><g><text x="0" y="0" font-size="22" letter-spacing="0" font-weight="bold">X</text></g></g>
<g transform="matrix(0.9923,0,0,1.0667,775.91,492.00)"><g><text x="0" y="0" font-size="22" letter-spacing="0" font-weight="bold">X</text></g></g>
<g transform="matrix(0.9846,0,0,1.1200,1159.12,490.70)"><g><text x="0" y="0" font-size="22" letter-spacing="0" font-weight="bold">X</text></g></g>
<path d="M533,368.9 Q535.8,368.3 537.4,364.7 L537.4,380.6" stroke-width="2.2"/>
<path d="M128.7,539.3 Q132.2,538.7 133.8,535.1 L133.8,550.4" stroke-width="2.2"/>
<path d="M204,585.5 Q207.5,584.9 209.1,581.3 L209.1,595.7" stroke-width="2.2"/>
<g transform="matrix(1.1294,0,0,0.9926,69.44,632.10)"><g><text x="0" y="0" font-size="38" letter-spacing="0" font-weight="normal">2</text></g></g>
<g transform="matrix(1.0882,0,0,0.9815,587.32,595.00)"><g><text x="0" y="0" font-size="38" letter-spacing="0" font-weight="normal">2</text></g></g>
<g transform="matrix(1.0611,0,0,1.0185,1199.28,129.70)"><g><text x="0" y="0" font-size="38" letter-spacing="0" font-weight="normal">3</text></g></g>
<g transform="matrix(0.9966,0,0,0.9294,353.90,764.90)"><g><text x="0" y="0" font-size="24" letter-spacing="4" font-weight="normal">45</text></g></g>
<g transform="matrix(0.9439,0,0,0.8000,348.46,793.60)"><g><text x="0" y="0" font-size="24" letter-spacing="4" font-weight="normal">= =</text></g></g>
<g transform="matrix(1.0280,0,0,0.9471,354.87,826.50)"><g><text x="0" y="0" font-size="24" letter-spacing="4" font-weight="normal">71</text><rect x="17.82" y="-2.88" width="5.35" height="4.08" fill="#fff" stroke="none"/><rect x="25.67" y="-2.88" width="5.23" height="4.08" fill="#fff" stroke="none"/></g></g>
<g transform="matrix(0.9512,0,0,0.8750,347.95,856.40)"><g><text x="0" y="0" font-size="24" letter-spacing="4" font-weight="normal">= =</text></g></g>
<g transform="matrix(1.0265,0,0,0.9273,306.17,892.96)"><g><text x="0" y="0" font-size="24" letter-spacing="4.5" font-weight="normal">76.2 (3P)</text></g></g>
<g transform="matrix(0.9512,0,0,0.8875,347.95,931.35)"><g><text x="0" y="0" font-size="24" letter-spacing="4" font-weight="normal">= =</text></g></g>
<g transform="matrix(1.0310,0,0,0.9294,946.77,26.90)"><g><text x="0" y="0" font-size="24" letter-spacing="4" font-weight="normal">83</text></g></g>
<g transform="matrix(1.0069,0,0,0.9529,939.29,92.40)"><g><text x="0" y="0" font-size="24" letter-spacing="4" font-weight="normal">78</text></g></g>
<g transform="matrix(0.9793,0,0,0.9706,926.92,150.00)"><g><text x="0" y="0" font-size="24" letter-spacing="4" font-weight="normal">70</text></g></g>
<g transform="matrix(0.9176,0,0,0.9321,1208.40,472.06)"><g transform="rotate(-90)"><text x="0" y="0" font-size="24" letter-spacing="4" font-weight="normal">14</text><rect x="0.48" y="-2.88" width="5.35" height="4.08" fill="#fff" stroke="none"/><rect x="8.33" y="-2.88" width="5.23" height="4.08" fill="#fff" stroke="none"/></g></g>
<g transform="matrix(0.9118,0,0,0.9880,1260.70,515.79)"><g transform="rotate(-90)"><text x="0" y="0" font-size="24" letter-spacing="4" font-weight="normal">41</text><rect x="17.82" y="-2.88" width="5.35" height="4.08" fill="#fff" stroke="none"/><rect x="25.67" y="-2.88" width="5.23" height="4.08" fill="#fff" stroke="none"/></g></g>
<g transform="matrix(0.9588,0,0,1.0222,1318.80,469.44)"><g transform="rotate(-90)"><text x="0" y="0" font-size="24" letter-spacing="4" font-weight="normal">16</text><rect x="0.48" y="-2.88" width="5.35" height="4.08" fill="#fff" stroke="none"/><rect x="8.33" y="-2.88" width="5.23" height="4.08" fill="#fff" stroke="none"/></g></g>
<g transform="matrix(0.9588,0,0,0.9857,1376.10,515.79)"><g transform="rotate(-90)"><text x="0" y="0" font-size="24" letter-spacing="4" font-weight="normal">45</text></g></g>
<g transform="matrix(0.9691,0,0,1.1389,718.86,618.98)"><g transform="scale(0.86,1)"><text x="0.00 18.72 31.74 47.79 63.84" y="0" font-size="22" letter-spacing="0" font-weight="normal">1,1Nm</text><rect x="0.44" y="-2.64" width="4.91" height="3.74" fill="#fff" stroke="none"/><rect x="7.63" y="-2.64" width="4.80" height="3.74" fill="#fff" stroke="none"/><rect x="32.18" y="-2.64" width="4.91" height="3.74" fill="#fff" stroke="none"/><rect x="39.37" y="-2.64" width="4.80" height="3.74" fill="#fff" stroke="none"/></g></g>
<g transform="matrix(0.9371,0,0,1.1267,763.36,837.00)"><g><text x="0" y="0" font-size="22" letter-spacing="3" font-weight="normal">≥ 3</text></g></g>
<g transform="matrix(0.9853,0,0,1.1067,1102.11,836.70)"><g><text x="0" y="0" font-size="22" letter-spacing="3" font-weight="normal">≤ 2</text></g></g>
<g transform="matrix(0.9667,0,0,1.0462,935.53,836.50)"><g><text x="0" y="0" font-size="36" letter-spacing="0" font-weight="bold">A</text></g></g>
<g transform="matrix(1.0049,0,0,0.9412,967.09,902.30)"><g><text x="0" y="0" font-size="24" letter-spacing="4" font-weight="normal">101</text><rect x="0.48" y="-2.88" width="5.35" height="4.08" fill="#fff" stroke="none"/><rect x="8.33" y="-2.88" width="5.23" height="4.08" fill="#fff" stroke="none"/><rect x="35.17" y="-2.88" width="5.35" height="4.08" fill="#fff" stroke="none"/><rect x="43.02" y="-2.88" width="5.23" height="4.08" fill="#fff" stroke="none"/></g></g>
</g>
</svg>
</body></html>
